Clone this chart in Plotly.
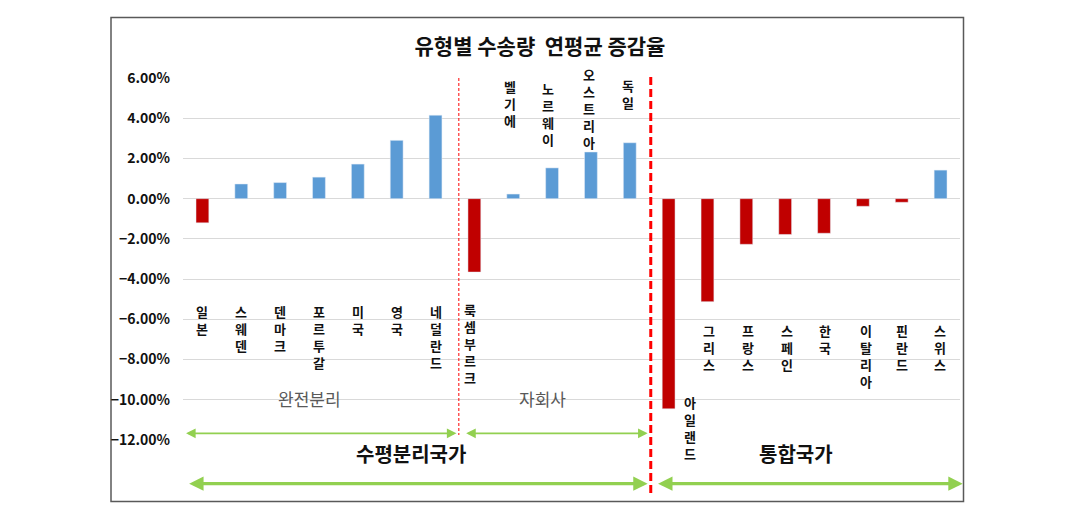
import plotly.graph_objects as go

# 국가별 연평균 증감율 (%)
countries = ["일본", "스웨덴", "덴마크", "포르투갈", "미국", "영국", "네덜란드",
             "룩셈부르크", "벨기에", "노르웨이", "오스트리아", "독일",
             "아일랜드", "그리스", "프랑스", "스페인", "한국", "이탈리아", "핀란드", "스위스"]
growth = [-1.2, 0.73, 0.8, 1.07, 1.72, 2.9, 4.15,
          -3.65, 0.23, 1.53, 2.32, 2.78,
          -10.45, -5.12, -2.27, -1.78, -1.72, -0.38, -0.18, 1.42]
y_ticks = [6, 4, 2, 0, -2, -4, -6, -8, -10, -12]
Y_MIN, Y_MAX = -12, 6

TITLE = "유형별 수송량  연평균 증감율"
FONT = "Noto Sans CJK KR"
BLUE = "#5B9BD5"
RED = "#C00000"
GREEN = "#92D050"

# page body has an 8px margin, so the figure is drawn 8px in from the window edge
OFF = 8
W, H = 1078 - OFF, 514 - OFF
L, R, T, B = 183 - OFF, 1078 - 960, 78 - OFF, 514 - 440

# label placement (top of each vertical label, % units) and x shift in px
label_top = [-5.05] * 7 + [-4.95, 6.15, 6.05, 6.75, 6.2] + [-9.55] + [-6.0] * 7
label_dx = [0] * 7 + [-4, -3, -4, -2, -2] + [21] + [2, 2, 2, 1, 3, 0, -1]


def px_x(p):
    # window pixel -> paper x
    return (p - OFF - L) / (W - L - R)


def px_y(p):
    # window pixel -> paper y
    return (H - B - (p - OFF)) / (H - T - B)


def pct_y(v):
    # percent value -> paper y
    return (v - Y_MIN) / (Y_MAX - Y_MIN)


fig = go.Figure(
    go.Bar(
        x=countries,
        y=[v / 100 for v in growth],
        marker_color=[BLUE if v >= 0 else RED for v in growth],
        width=0.33,
        hovertemplate="%{x}: %{y:.2%}<extra></extra>",
    )
)

# vertical (stacked) country names
for name, top, dx in zip(countries, label_top, label_dx):
    fig.add_annotation(
        x=name, y=pct_y(top), xref="x", yref="paper",
        text="<br>".join(name), showarrow=False,
        yanchor="top", xanchor="center", xshift=dx,
        font=dict(family=FONT, size=13, color="#111111", weight="bold"),
    )

# group arrows: x from, x to (category index), y (%), line width
arrows = [
    (-0.46, 6.54, -11.67, 1.6),
    (6.75, 11.46, -11.67, 1.6),
    (-0.38, 11.46, -14.17, 3.2),
    (11.69, 19.57, -14.17, 3.2),
]
for x0, x1, yv, w in arrows:
    fig.add_annotation(
        x=x1, y=pct_y(yv), ax=x0, ay=0,
        xref="x", yref="paper", axref="x", ayref="pixel",
        text="", showarrow=True, arrowside="end+start",
        arrowhead=2, arrowsize=1.2 if w < 2 else 0.9, arrowwidth=w, arrowcolor=GREEN,
        standoff=0, startstandoff=0,
    )

group_labels = [
    ("완전분리", 2.76, -10.67, 17, "#595959", "normal"),
    ("자회사", 8.76, -10.67, 17, "#595959", "normal"),
    ("수평분리국가", 5.37, -13.5, 20, "#111111", "bold"),
    ("통합국가", 15.29, -13.5, 20, "#111111", "bold"),
]
for txt, xv, yv, size, color, weight in group_labels:
    fig.add_annotation(
        x=xv, y=pct_y(yv), xref="x", yref="paper", text=txt, showarrow=False,
        font=dict(family=FONT, size=size, color=color, weight=weight),
    )

# separators
fig.add_shape(type="line", xref="paper", yref="paper",
              x0=7.1 / 20, x1=7.1 / 20, y0=px_y(78), y1=px_y(435),
              line=dict(color="#FF0000", width=1, dash="3px,2px"))
fig.add_shape(type="line", xref="paper", yref="paper",
              x0=12.04 / 20, x1=12.04 / 20, y0=px_y(77), y1=px_y(495),
              line=dict(color="#FF0000", width=3, dash="8px,4px"))

# outer frame
fig.add_shape(type="rect", xref="paper", yref="paper",
              x0=px_x(111), x1=px_x(963.5), y0=px_y(501.5), y1=px_y(17.5),
              line=dict(color="#595959", width=1.5), layer="below")

fig.update_layout(
    width=W, height=H,
    margin=dict(l=L, r=R, t=T, b=B),
    paper_bgcolor="white", plot_bgcolor="white",
    showlegend=False,
    title=dict(text=TITLE, x=(540 - OFF) / W, xref="container", xanchor="center",
               y=1 - (47 - OFF) / H, yref="container", yanchor="middle",
               font=dict(family=FONT, size=21, color="#111111", weight="bold")),
    font=dict(family=FONT),
)
fig.update_xaxes(showticklabels=False, showgrid=False, zeroline=False,
                 showline=False, ticks="", range=[-0.5, 19.5])
fig.update_yaxes(
    range=[Y_MIN / 100, Y_MAX / 100],
    tickvals=[v / 100 for v in y_ticks],
    tickformat=".2%",
    gridcolor="#D9D9D9", gridwidth=1,
    zeroline=True, zerolinecolor="#D9D9D9", zerolinewidth=1,
    showline=False, ticks="",
    ticklabelstandoff=12,
    tickfont=dict(family=FONT, size=14, color="#111111", weight="bold"),
)

fig.write_html("out.html")
